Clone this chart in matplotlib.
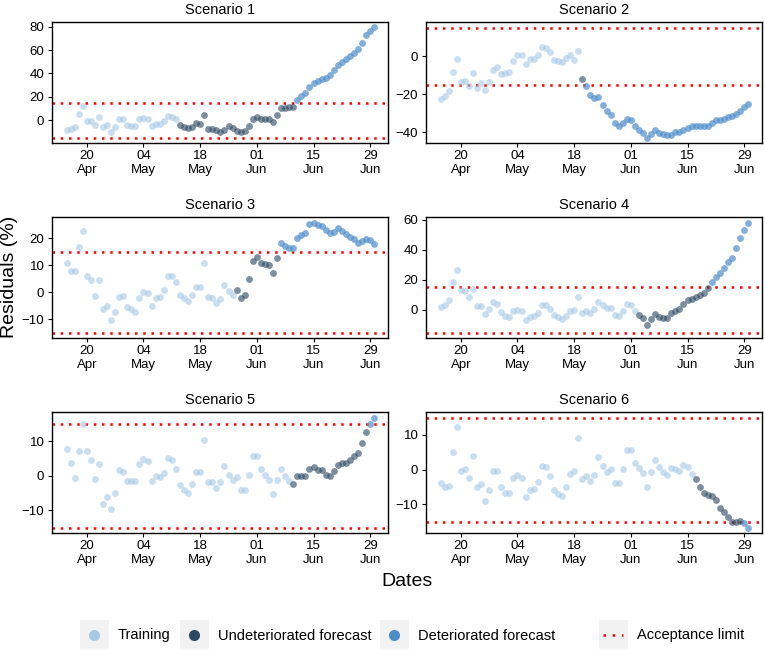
import numpy as np
import pandas as pd
import matplotlib
matplotlib.use("Agg")
import matplotlib.pyplot as plt
import matplotlib.dates as mdates
from matplotlib.patches import Rectangle
from matplotlib.ticker import MultipleLocator

plt.rcParams['font.family'] = ['Liberation Sans', 'DejaVu Sans']

# daily residuals (%), 15 Apr - 30 Jun
dates = pd.date_range("2020-04-15", "2020-06-30", freq="D")
limit = 15

s1_train = [-8.2, -8, -6, 5, 12, -0.5, -1, -4, 3, -6, -4.5, -10, -6, 0.5, 1, -4, -5, -5, 0.5, 1.7,
            0.5, -5, -3, -3, -1, 3.4, 2.5, 0.5]
s1_undet = [-4.3, -6, -6.5, -5.7, -2.6, -3, 4.5, -7.7, -7.7, -8.8, -10.2, -8.8, -4.8, -6.8, -9, -10,
            -9.7, -5, 1.1, 2.5, 0.5, 0.5, 0.5, -2, 4.3, 10.2, 10.2, 10.8, 11.6]
s1_det = [17.6, 20.5, 23, 28, 31.8, 33.5, 35.5, 36.4, 39, 43, 47.4, 50, 52.3, 55.4, 58, 60.8, 66.2,
          72.7, 76.4, 79.5]

s2_train = [-22.8, -21.2, -18.6, -8.5, -1.6, -13.7, -13.2, -15.5, -8.9, -16.7, -14.1, -18.1, -13.7,
            -7.3, -5.9, -9.2, -9, -8.2, -2.4, 0.3, 0.3, -4.2, -1.6, -1.6, 0.5, 4.9, 4.2, 1.9, -1.9,
            -2.6, -3, -1.2, 0.7, -2.3, 2.6]
s2_undet = [-12.3]
s2_det = [-15.7, -20.3, -22.1, -21.4, -25.9, -29, -30.8, -35.1, -36.9, -35.1, -32.9, -33.7, -37,
          -38.8, -40.2, -42.8, -40.9, -38.8, -40.2, -41, -41.4, -41.6, -39.8, -39.7, -39.1, -37.6,
          -36.9, -37, -36.9, -36.9, -36.7, -35.3, -33.7, -33.4, -33.2, -32, -31.3, -30.6, -28.9,
          -26.6, -25.2]

s3_train = [10.9, 7.7, 7.7, 16.8, 22.8, 5.9, 4.4, -1.4, 4.4, -6.2, -5.2, -10.5, -7.5, -1.7, -1.5,
            -5.4, -6.4, -7.5, -2.2, 0.1, -0.2, -5.1, -2.3, -1.7, 0.9, 5.9, 5.9, 3.6, -0.9, -2.2,
            -3.2, -1.1, 2.1, 1.9, 10.7, -1.9, -2, -4, -2.5, 2.7, 0.4, -0.9]
s3_undet = [0.9, -2.1, -1.1, 4.8, 11.7, 13.2, 10.7, 10.5, 10.1, 7, 12.8]
s3_det = [18.3, 17.3, 16.5, 16.5, 20.2, 21.4, 22, 25.2, 25.9, 25.1, 24.7, 23, 22, 22.5, 23.7, 22.8,
          21.5, 20.6, 19.8, 18.3, 19, 19.9, 19.3, 17.9]

s4_train = [1.8, 3.3, 6.4, 18.5, 26.6, 13.4, 12.7, 8.4, 14.1, 2.9, 2.9, -2.4, 0.4, 5.3, 4.2, -1.3,
            -3.7, -4.8, -0.9, 0.2, -0.7, -6.6, -4.6, -4.2, -2, 3.1, 3.1, 0.9, -3.5, -4.8, -5.9,
            -3.7, -0.7, -0.2, 8.8, -2.2, -0.9, -2, 0.7, 5.3, 3.3, 1.1, 1.5, -3.3, -4, -0.4, 4, 3.3,
            -0.9]
s4_undet = [-3.3, -5.5, -9.7, -5.7, -2.4, -4.4, -5.1, -5.1, -1.8, -0.4, 0.9, 4, 6.6, 7, 8.6, 9.7,
            11.4, 14.5]
s4_det = [18.9, 21.8, 24.6, 28.1, 31.6, 34.9, 41.5, 48.1, 53.2, 58.2]

s5_train = [7.6, 3.7, -0.6, 7, 15, 7, 4.5, -1.1, 3.4, -8.3, -6.1, -9.7, -4.9, 1.6, 1.1, -1.6, -1.6,
            -1.6, 3.3, 4.8, 4.3, -1.7, -0.2, -0.5, 0.8, 5.2, 4.6, 1.8, -2.7, -4.1, -5, -2.4, 1.1,
            1.1, 10.2, -1.9, -1.8, -3.7, -1.9, 2.9, 0.3, -1.4, -0.5, -4.3, -4.2, 0.2, 5.7, 5.7,
            1.9, 0.2, -1.2, -5.3, -1.2, 2, 0, -1.6]
s5_undet = [-2.5, -0.2, -0.2, -0.2, 2, 2.4, 1.7, 1.5, 0.2, -0.1, 1.4, 3.1, 3.6, 3.6, 4.6, 5.6, 6.6,
            9.5, 12.6]
s5_det = [15, 16.8]

s6_train = [-3.9, -5.1, -4.6, 5, 12.4, -0.4, 0.1, -2.4, 4, -5, -4.1, -9.1, -5.8, -0.3, -0.5, -5,
            -6.7, -6.9, -2.5, -1.5, -2.5, -7.9, -5.8, -5.6, -3.7, 0.9, 0.6, -1.9, -6, -7, -7.7, -5,
            -1.3, -0.5, 9, -2.6, -2, -3.4, -1.5, 3.6, 1, -0.7, 0.2, -3.9, -3.9, 0.3, 5.6, 5.6, 1.8,
            0.4, -1, -5, -0.8, 2.8, 0.8, -0.6, -1.7, 0.5, 0.1, -0.3, 1.2, 0.7, -1.4]
s6_undet = [-2.6, -5.1, -6.8, -7.3, -7.5, -8.7, -11.1, -12.3, -13.7, -15, -15, -14.8]
s6_det = [-15.5, -16.7]

scenarios = [
    ("Scenario 1", s1_train, s1_undet, s1_det, 20),
    ("Scenario 2", s2_train, s2_undet, s2_det, 20),
    ("Scenario 3", s3_train, s3_undet, s3_det, 10),
    ("Scenario 4", s4_train, s4_undet, s4_det, 20),
    ("Scenario 5", s5_train, s5_undet, s5_det, 10),
    ("Scenario 6", s6_train, s6_undet, s6_det, 10),
]

labels = ["Training", "Undeteriorated forecast", "Deteriorated forecast"]
colors = ["#a6c8e5", "#2d4a63", "#4d8dc9"]
alphas = [0.6, 0.62, 0.7]

W, H = 765, 651
fig = plt.figure(figsize=(W / 100, H / 100), dpi=100)

# axes boxes in pixels: left, top
lefts = [52, 426]
tops = [22, 217, 412]
aw, ah = 336, 121
xticks = pd.to_datetime(["2020-04-20", "2020-05-04", "2020-05-18",
                         "2020-06-01", "2020-06-15", "2020-06-29"])

for k, (title, tr, ud, de, step) in enumerate(scenarios):
    r, c = divmod(k, 2)
    ax = fig.add_axes([lefts[c] / W, 1 - (tops[r] + ah) / H, aw / W, ah / H])
    start = 0
    for vals, col, a in zip([tr, ud, de], colors, alphas):
        d = dates[start:start + len(vals)]
        ax.scatter(d, vals, s=24, color=col, alpha=a, linewidths=0, zorder=3)
        start += len(vals)
    for yl in (limit, -limit):
        ax.axhline(yl, color="red", lw=1.8, ls=(0, (1, 2.3)), zorder=2)

    allv = np.concatenate([tr, ud, de])
    lo, hi = min(allv.min(), -limit), max(allv.max(), limit)
    pad = 0.05 * (hi - lo)
    ax.set_ylim(lo - pad, hi + pad)
    ax.set_xlim(dates[0] - pd.Timedelta(days=3.6), dates[-1] + pd.Timedelta(days=3.4))
    ax.yaxis.set_major_locator(MultipleLocator(step))
    ax.set_xticks(xticks)
    ax.xaxis.set_major_formatter(mdates.DateFormatter("%d\n%b"))
    ax.tick_params(labelsize=9.5, length=3, width=0.8, pad=2.5, colors="black")
    ax.tick_params(axis="x", pad=2)
    for sp in ax.spines.values():
        sp.set_linewidth(1.0)
    ax.set_title(title, fontsize=10.5, pad=6)

fig.text(10 / W, 1 - 277 / H, "Residuals (%)", rotation=90, fontsize=14,
         ha="center", va="center")
fig.text(407 / W, 1 - 582 / H, "Dates", fontsize=14, ha="center", va="center")

# legend drawn in pixel space
lax = fig.add_axes([0, 0, 1, 1], zorder=-1)
lax.set_xlim(0, W)
lax.set_ylim(H, 0)
lax.axis("off")
key_y = 634.5
box_x = [80, 180, 380, 599]
for bx in box_x:
    lax.add_patch(Rectangle((bx, 620), 29, 29, color="#f2f2f2", lw=0))
for bx, lab, col in zip(box_x[:3], labels, colors):
    lax.plot(bx + 14.5, key_y, "o", ms=8, color=col, mec="none")
    lax.text(bx + 38, key_y + 1, lab, fontsize=10.5, va="center", ha="left")
lax.plot([box_x[3] + 4, box_x[3] + 24], [key_y, key_y], color="red", lw=1.8,
         ls=(0, (1, 2.7)))
lax.text(box_x[3] + 38, key_y + 1, "Acceptance limit", fontsize=10.5, va="center", ha="left")

fig.savefig("out.png", dpi=100)
